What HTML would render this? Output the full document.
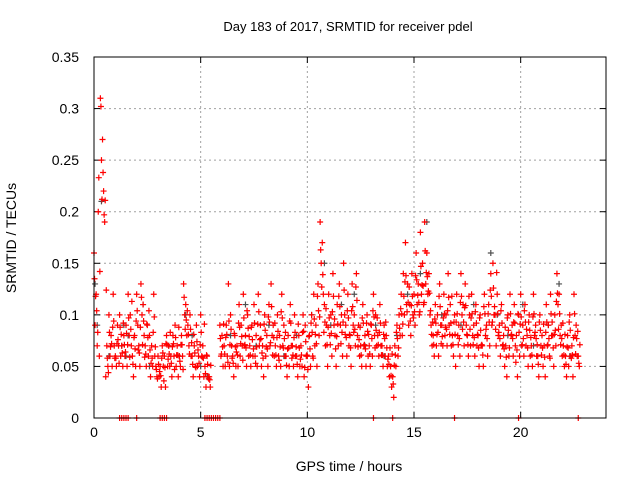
<!DOCTYPE html>
<html><head><meta charset="utf-8"><style>
html,body{margin:0;padding:0;background:#fff}
svg{display:block;font-family:"Liberation Sans",sans-serif}
</style></head><body>
<svg id="chart" width="640" height="480">
<text x="348" y="31" font-size="13" text-anchor="middle">Day 183 of 2017, SRMTID for receiver pdel</text>
<text x="349" y="471" font-size="14" text-anchor="middle">GPS time / hours</text>
<text x="16" y="238" font-size="14" text-anchor="middle" transform="rotate(-90 16 238)">SRMTID / TECUs</text>
<g id="grid"></g>
<g id="ticks"></g>
<g id="gray"></g>
<g id="red"></g>
<rect x="94" y="57" width="512" height="361" fill="none" stroke="#000" stroke-width="1"/>
</svg>
<script>
const xTicks=[0,5,10,15,20];
const yTicks=[0,0.05,0.1,0.15,0.2,0.25,0.3,0.35];
const yTickLabels=["0","0.05","0.1","0.15","0.2","0.25","0.3","0.35"];
const redT=[0,0.1,0.2,0.3,0.4,0.5,0.6,0.7,0.8,0.9,1,1.1,1.2,1.3,1.4,1.5,1.6,1.7,1.8,1.9,2,2.1,2.2,2.3,2.4,2.5,2.6,2.7,2.8,2.9,3,3.1,3.2,3.3,3.4,3.5,3.6,3.7,3.8,3.9,4,4.1,4.2,4.3,4.4,4.5,4.6,4.7,4.8,4.9,5,5.1,5.2,5.3,5.4,5.9,6,6.1,6.2,6.3,6.4,6.5,6.6,6.7,6.8,6.9,7,7.1,7.2,7.3,7.4,7.5,7.6,7.7,7.8,7.9,8,8.1,8.2,8.3,8.4,8.5,8.6,8.7,8.8,8.9,9,9.1,9.2,9.3,9.4,9.5,9.6,9.7,9.8,9.9,10,10.1,10.2,10.3,10.4,10.5,10.6,10.7,10.8,10.9,11,11.1,11.2,11.3,11.4,11.5,11.6,11.7,11.8,11.9,12,12.1,12.2,12.3,12.4,12.5,12.6,12.7,12.8,12.9,13,13.1,13.2,13.3,13.4,13.5,13.6,13.7,13.8,13.9,14,14.1,14.2,14.3,14.4,14.5,14.6,14.7,14.8,14.9,15,15.1,15.2,15.3,15.4,15.5,15.6,15.7,15.8,15.9,16,16.1,16.2,16.3,16.4,16.5,16.6,16.7,16.8,16.9,17,17.1,17.2,17.3,17.4,17.5,17.6,17.7,17.8,17.9,18,18.1,18.2,18.3,18.4,18.5,18.6,18.7,18.8,18.9,19,19.1,19.2,19.3,19.4,19.5,19.6,19.7,19.8,19.9,20,20.1,20.2,20.3,20.4,20.5,20.6,20.7,20.8,20.9,21,21.1,21.2,21.3,21.4,21.5,21.6,21.7,21.8,21.9,22,22.1,22.2,22.3,22.4,22.5,22.6,22.7];
const redA=[.16,.12,.20,.31,.27,.19,.07,.10,.08,.12,.06,.09,.10,.07,.08,.09,.12,.10,.06,.08,.12,.07,.13,.11,.07,.09,.08,.07,.12,.05,.06,.05,.07,.06,.08,.07,.06,.08,.09,.07,.06,.08,.13,.11,.09,.10,.06,.07,.09,.06,.10,.07,.05,.06,.04,.09,.08,.07,.09,.13,.10,.06,.08,.07,.11,.09,.12,.08,.10,.07,.09,.11,.08,.12,.09,.07,.10,.08,.11,.13,.09,.07,.10,.08,.12,.09,.06,.08,.11,.07,.10,.06,.08,.07,.10,.09,.06,.08,.10,.12,.09,.13,.19,.17,.11,.09,.12,.10,.14,.08,.11,.13,.10,.15,.09,.12,.08,.13,.10,.14,.09,.07,.11,.08,.10,.07,.09,.12,.10,.08,.11,.07,.09,.08,.06,.05,.04,.07,.09,.10,.12,.14,.17,.13,.11,.14,.12,.16,.13,.18,.15,.19,.16,.14,.09,.08,.11,.10,.13,.09,.12,.10,.14,.11,.08,.10,.12,.09,.14,.11,.13,.08,.10,.12,.09,.11,.08,.10,.07,.12,.09,.11,.14,.15,.10,.12,.09,.11,.08,.07,.10,.12,.09,.11,.08,.10,.12,.09,.11,.08,.10,.07,.12,.09,.06,.10,.08,.07,.11,.09,.12,.08,.10,.14,.12,.09,.07,.06,.08,.10,.07,.12,.09,.06];
const redB=[.09,.07,.06,.25,.22,.04,.05,.06,.05,.07,.05,.07,.06,.05,.06,.05,.08,.07,.04,.05,.09,.05,.10,.08,.05,.06,.04,.05,.06,.04,.04,.03,.05,.03,.05,.05,.04,.06,.05,.04,.05,.06,.10,.08,.07,.06,.04,.05,.05,.04,.06,.04,.03,.04,.03,.06,.05,.05,.06,.05,.07,.04,.05,.05,.06,.07,.07,.05,.06,.05,.06,.06,.05,.07,.05,.04,.06,.05,.07,.08,.06,.05,.06,.05,.07,.06,.04,.05,.07,.05,.06,.04,.05,.05,.04,.06,.03,.05,.06,.07,.05,.08,.15,.12,.07,.05,.08,.06,.09,.05,.07,.09,.06,.10,.06,.07,.05,.09,.07,.08,.06,.05,.07,.05,.06,.05,.06,.08,.07,.06,.07,.05,.06,.05,.04,.03,.02,.05,.06,.08,.08,.10,.11,.09,.08,.10,.09,.11,.10,.12,.11,.13,.12,.10,.07,.06,.07,.06,.09,.07,.08,.07,.09,.07,.06,.05,.08,.06,.10,.07,.09,.06,.07,.08,.06,.07,.05,.07,.05,.08,.06,.07,.09,.10,.07,.08,.06,.07,.05,.04,.06,.08,.06,.07,.04,.06,.07,.06,.07,.05,.06,.05,.08,.06,.04,.07,.05,.04,.07,.06,.08,.05,.07,.11,.08,.06,.05,.04,.05,.06,.04,.08,.06,.05];
const redC=[.135,.104,.233,.302,.238,.211,.058,.083,.072,.094,
.058,.076,.088,.063,.071,.082,.097,.086,.052,.067,
.104,.063,.117,.094,.062,.078,.066,.058,.098,.047,
.052,.041,.063,.049,.071,.062,.053,.072,.078,.061,
.055,.071,.117,.095,.081,.086,.052,.063,.074,.053,
.083,.058,.043,.052,.037,
.077,.069,.062,.081,.094,.086,.053,.069,.061,.088,
.079,.097,.068,.087,.061,.076,.092,.069,.103,.077,
.058,.085,.067,.093,.108,.078,.061,.084,.069,.097,
.077,.051,.068,.092,.061,.083,.052,.068,.061,.084,
.074,.047,.067,.083,.096,.072,.104,.163,.139,.093,
.071,.097,.082,.118,.067,.091,.108,.083,.124,.078,
.097,.068,.108,.086,.114,.076,.061,.092,.067,.084,
.062,.077,.098,.085,.071,.092,.061,.077,.068,.052,
.041,.033,.061,.077,.087,.101,.118,.138,.112,.094,
.118,.103,.134,.112,.147,.128,.162,.137,.121,.081,
.071,.092,.083,.108,.079,.101,.086,.117,.092,.071,
.081,.101,.077,.118,.093,.109,.071,.086,.101,.078,
.092,.068,.085,.061,.101,.077,.093,.118,.126,.086,
.101,.077,.092,.067,.059,.085,.101,.077,.092,.066,
.083,.098,.077,.093,.068,.085,.061,.101,.077,.052,
.085,.068,.059,.093,.077,.101,.068,.085,.121,.101,
.077,.061,.052,.068,.085,.061,.101,.077,.053];
const redD=[.118,.083,.142,.212,.197,.124,.044,.069,.088,.058,
.072,.053,.081,.092,.064,.071,.059,.113,.078,.094,
.066,.088,.071,.059,.091,.104,.053,.083,.069,.038,
.045,.058,.036,.072,.057,.083,.069,.047,.061,.088,
.071,.047,.086,.104,.062,.073,.081,.049,.066,.071,
.059,.091,.061,.038,.051,
.062,.091,.078,.054,.071,.058,.082,.064,.092,.072,
.056,.071,.104,.079,.088,.067,.053,.091,.076,.063,
.091,.069,.098,.073,.061,.092,.078,.056,.103,.068,
.083,.067,.094,.058,.078,.069,.091,.057,.083,.049,
.061,.079,.092,.058,.081,.118,.098,.127,.083,.106,
.088,.071,.103,.096,.079,.118,.072,.093,.081,.104,
.081,.104,.083,.127,.069,.088,.097,.071,.092,.081,
.091,.104,.068,.097,.083,.061,.081,.093,.057,.068,
.062,.051,.083,.068,.106,.091,.132,.103,.127,.109,
.097,.138,.119,.103,.129,.112,.141,.123,.104,.093,
.096,.081,.118,.072,.097,.088,.104,.081,.118,.093,
.093,.071,.112,.086,.107,.081,.118,.097,.071,.103,
.081,.097,.071,.108,.086,.101,.124,.093,.108,.141,
.083,.104,.071,.088,.097,.068,.081,.093,.054,.101,
.091,.071,.104,.086,.093,.078,.098,.083,.071,.093,
.061,.091,.083,.071,.058,.093,.081,.113,.086,.071,
.092,.081,.069,.093,.058,.078,.062,.084,.071];
const grayT=[0.05,0.15,0.35,0.7,1.3,1.4,1.5,1.6,2.3,2.6,3.5,4.0,4.3,4.6,5.0,5.3,6.4,7.1,7.6,8.2,8.9,9.5,10.2,10.8,11.1,11.6,12.2,12.7,13.2,13.6,14.2,14.7,15.3,15.6,16.3,17.2,17.8,18.6,18.9,19.4,20.1,20.6,21.3,21.8,22.3];
const grayV=[.13,.09,.21,.06,.07,.09,.06,.08,.11,.05,.07,.06,.10,.08,.05,.04,.08,.11,.07,.09,.06,.08,.10,.15,.09,.11,.12,.07,.09,.06,.08,.12,.14,.19,.10,.09,.11,.16,.10,.08,.11,.07,.09,.13,.06];
const zeroT=[1.2,1.3,1.4,1.5,1.6,2.0,3.1,3.2,3.3,3.4,5.2,5.3,5.4,5.5,5.6,5.7,5.8,5.9,13.1,14.0,16.9,19.9,22.7];

const X0=94,X1=606,Y0=418,Y1=57,XMAX=24,YMAX=0.35;
function xs(t){return X0+t/XMAX*(X1-X0);}
function ys(v){return Y0-v/YMAX*(Y0-Y1);}
const NS="http://www.w3.org/2000/svg";
function mk(tag,attrs,parent){const e=document.createElementNS(NS,tag);for(const k in attrs)e.setAttribute(k,attrs[k]);parent.appendChild(e);return e;}
const grid=document.getElementById('grid'),ticks=document.getElementById('ticks');
xTicks.forEach(t=>{const x=xs(t);
 if(t>0){const g=mk('line',{x1:x,y1:Y0,x2:x,y2:Y1,stroke:'#a0a0a0','stroke-dasharray':'2,3'},grid);
 
 }
 mk('line',{x1:x,y1:Y0,x2:x,y2:Y0-6,stroke:'#000'},ticks);
 mk('line',{x1:x,y1:Y1,x2:x,y2:Y1+6,stroke:'#000'},ticks);
 const l=mk('text',{x:x,y:Y0+19,'font-size':14,'text-anchor':'middle'},ticks);l.textContent=String(t);
 
 
});
yTicks.forEach((v,i)=>{const y=ys(v);
 if(v>0&&v<YMAX){const g=mk('line',{x1:X0,y1:y,x2:X1,y2:y,stroke:'#a0a0a0','stroke-dasharray':'2,3'},grid);
 
 }
 mk('line',{x1:X0,y1:y,x2:X0+6,y2:y,stroke:'#000'},ticks);
 mk('line',{x1:X1,y1:y,x2:X1-6,y2:y,stroke:'#000'},ticks);
 const l=mk('text',{x:79,y:y+5,'font-size':14,'text-anchor':'end'},ticks);l.textContent=yTickLabels[i];
 
 
});
function plus(g,t,v,c){if(v===undefined)return;const x=xs(t),y=ys(v);
 const p=mk('path',{d:`M${x-3},${y}h6M${x},${y-3}v6`,stroke:c,'stroke-width':1.2,fill:'none'},g);
 
 }
const gg=document.getElementById('gray'),rg=document.getElementById('red');
grayT.forEach((t,i)=>plus(gg,t,grayV[i],'#505050'));
redT.forEach((t,i)=>{plus(rg,t,redA[i],'#ff0000');plus(rg,t+0.05,redB[i],'#ff0000');plus(rg,t+0.025,redC[i],'#ff0000');plus(rg,t+0.075,redD[i],'#ff0000');});
zeroT.forEach(t=>plus(rg,t,0,'#ff0000'));
</script>
</body></html>
